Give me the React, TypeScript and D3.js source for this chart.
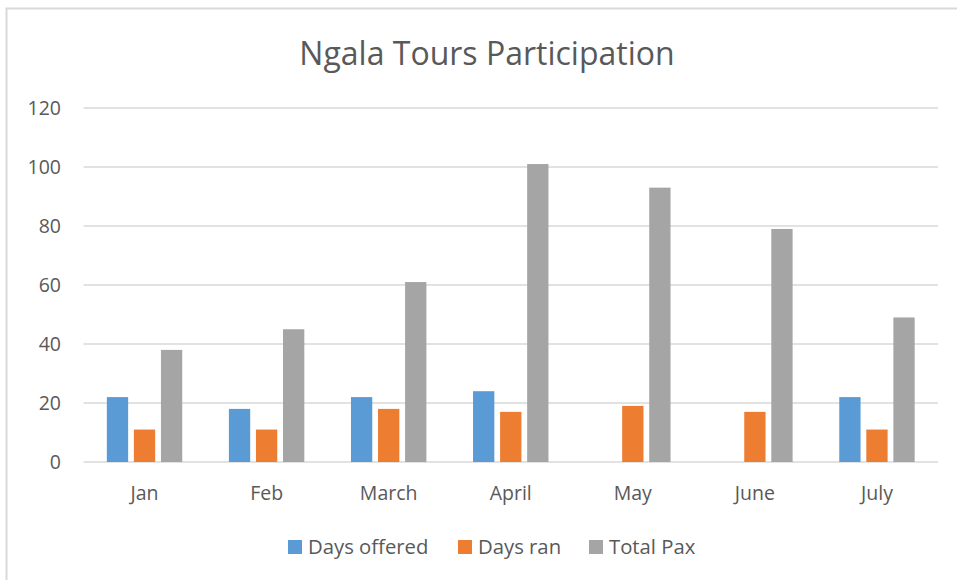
import React, { useRef, useEffect } from "react";
import * as d3 from "d3";

const MONTHS = ["Jan", "Feb", "March", "April", "May", "June", "July"];
const SERIES = ["Days offered", "Days ran", "Total Pax"];
const DAYS_OFFERED = [22, 18, 22, 24, 0, 0, 22];
const DAYS_RAN = [11, 11, 18, 17, 19, 17, 11];
const TOTAL_PAX = [38, 45, 61, 101, 93, 79, 49];
const Y_TICKS = [0, 20, 40, 60, 80, 100, 120];
const COLORS = ["#5b9bd5", "#ed7d31", "#a5a5a5"];

const FONT = "'Open Sans', sans-serif";
const TEXT = "#595959";

export default function App() {
    const svgRef = useRef<SVGSVGElement>(null);

    useEffect(() => {
        const width = 957, height = 580;
        const left = 83.5, right = 938, top = 108, bottom = 462;

        const values = [DAYS_OFFERED, DAYS_RAN, TOTAL_PAX];
        const rows = MONTHS.map((m, i) => ({
            month: m,
            vals: SERIES.map((s, j) => ({ series: s, idx: j, value: values[j][i] })),
        }));

        const x0 = d3.scaleBand().domain(MONTHS).range([left, right]);
        // excel style: gap width 219%, overlap -27%
        const bw = x0.bandwidth() / (3 + 2 * 0.27 + 2.19);
        const gap = 0.27 * bw;
        const clusterW = 3 * bw + 2 * gap;
        const x1 = d3.scaleBand()
            .domain(SERIES)
            .range([(x0.bandwidth() - clusterW) / 2, (x0.bandwidth() + clusterW) / 2])
            .paddingInner(gap / (bw + gap));

        const y = d3.scaleLinear().domain([0, 120]).range([bottom, top]);

        const svg = d3.select(svgRef.current);
        svg.selectAll("*").remove();

        // frame (right/bottom edges run off the picture)
        svg.append("rect")
            .attr("x", 6.5).attr("y", 8.5)
            .attr("width", width + 20).attr("height", height + 20)
            .attr("fill", "#fff")
            .attr("stroke", "#d9d9d9")
            .attr("stroke-width", 2);

        svg.append("text")
            .attr("x", 487)
            .attr("y", 65)
            .attr("text-anchor", "middle")
            .style("font-family", FONT)
            .style("font-size", "32px")
            .style("fill", TEXT)
            .text("Ngala Tours Participation");

        // gridlines
        svg.append("g")
            .selectAll("line")
            .data(Y_TICKS)
            .join("line")
            .attr("x1", left).attr("x2", right)
            .attr("y1", d => y(d)).attr("y2", d => y(d))
            .attr("stroke", "#d9d9d9")
            .attr("stroke-width", 1.5);

        svg.append("g")
            .selectAll("text")
            .data(Y_TICKS)
            .join("text")
            .attr("x", 61)
            .attr("y", d => y(d) + 7)
            .attr("text-anchor", "end")
            .style("font-family", FONT)
            .style("font-size", "19.5px")
            .style("fill", TEXT)
            .text(d => d);

        svg.append("g")
            .selectAll("g")
            .data(rows)
            .join("g")
            .attr("transform", d => `translate(${x0(d.month)},0)`)
            .selectAll("rect")
            .data(d => d.vals.filter(v => v.value > 0))
            .join("rect")
            .attr("x", d => x1(d.series)!)
            .attr("y", d => y(d.value))
            .attr("width", x1.bandwidth())
            .attr("height", d => y(0) - y(d.value))
            .attr("fill", d => COLORS[d.idx]);

        svg.append("g")
            .selectAll("text")
            .data(MONTHS)
            .join("text")
            .attr("x", d => x0(d)! + x0.bandwidth() / 2)
            .attr("y", 500)
            .attr("text-anchor", "middle")
            .style("font-family", FONT)
            .style("font-size", "19.5px")
            .style("fill", TEXT)
            .text(d => d);

        // legend
        const legendX = [288, 458, 589];
        const legend = svg.append("g");
        SERIES.forEach((s, i) => {
            legend.append("rect")
                .attr("x", legendX[i])
                .attr("y", 540)
                .attr("width", 14)
                .attr("height", 14)
                .attr("fill", COLORS[i]);
            legend.append("text")
                .attr("x", legendX[i] + 20)
                .attr("y", 554)
                .style("font-family", FONT)
                .style("font-size", "20.3px")
                .style("fill", TEXT)
                .text(s);
        });
    }, []);

    return (
        <svg
            ref={svgRef}
            width={957}
            height={580}
            style={{ display: "block", position: "absolute", left: 0, top: 0, background: "#fff" }}
        />
    );
}
